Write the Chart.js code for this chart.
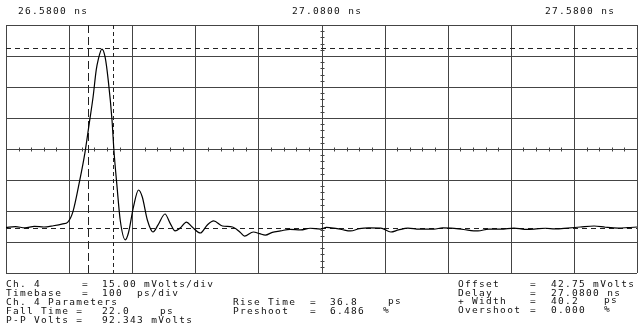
<!DOCTYPE html>
<html>
<head>
<meta charset="utf-8">
<script src="https://cdn.jsdelivr.net/npm/chart.js@4.4.0/dist/chart.umd.min.js"></script>
<style>
  html, body { margin: 0; padding: 0; background: #fff; }
  #wrap { width: 638px; height: 333px; }
</style>
</head>
<body>
<div id="wrap"><canvas id="scope"></canvas></div>
<script>
// waveform, time in ps from 26.5800 ns, amplitude in mV
const timePs = [0, 15, 30, 45, 60, 75, 90, 98, 106, 117, 125, 132, 138, 143, 146, 152, 157, 162, 168, 171, 176, 181, 189, 194, 202, 210, 216, 224, 233, 241, 252, 260, 268, 276, 286, 295, 308, 319, 329, 343, 359, 371, 378, 392, 402, 411, 422, 435, 450, 467, 482, 498, 508, 519, 532, 546, 560, 575, 594, 610, 622, 637, 655, 678, 692, 705, 725, 748, 765, 784, 805, 822, 837, 855, 870, 890, 910, 932, 950, 970, 985, 1000];
const voltsMv = [4.8, 5.2, 4.6, 5.3, 5.0, 5.6, 6.5, 7.4, 12.3, 27.8, 40.8, 55.3, 67.9, 81.0, 85.8, 91.1, 87.3, 76.1, 56.8, 42.3, 24.4, 8.4, -1.2, 2.1, 14.7, 22.9, 19.5, 8.4, 2.6, 6.0, 11.3, 6.9, 3.1, 4.5, 7.4, 5.0, 2.1, 6.0, 8.0, 5.5, 5.0, 2.5, 0.6, 2.6, 1.8, 1.1, 2.4, 3.1, 3.9, 3.6, 4.4, 4.0, 4.8, 4.5, 3.8, 3.1, 4.2, 4.6, 4.5, 2.6, 3.6, 4.5, 4.0, 4.0, 4.6, 4.5, 3.8, 3.1, 4.0, 4.0, 4.5, 3.9, 4.0, 4.4, 4.1, 4.5, 5.0, 5.5, 4.9, 4.5, 4.7, 5.0];

const xTicksPs = [0, 100, 200, 300, 400, 500, 600, 700, 800, 900, 1000];
const yTicksMv = [-17.25, -2.25, 12.75, 27.75, 42.75, 57.75, 72.75, 87.75, 102.75];
const markerTimesPs = [130, 170];
const markerLevelsMv = [91.6, 4.5];

const topLabels = ['26.5800 ns', '27.0800 ns', '27.5800 ns'];
const leftRows = [
  ['Ch. 4', '=', '15.00 mVolts/div', ''],
  ['Timebase', '=', '100  ps/div', ''],
  ['Ch. 4 Parameters', '', '', ''],
  ['Fall Time =', '', '22.0', 'ps'],
  ['P-P Volts =', '', '92.343 mVolts', '']
];
const midRows = [
  ['Rise Time', '=', '36.8', 'ps'],
  ['Preshoot', '=', '6.486', '%']
];
const rightRows = [
  ['Offset', '=', '42.75 mVolts', ''],
  ['Delay', '=', '27.0800 ns', ''],
  ['+ Width', '=', '40.2', 'ps'],
  ['Overshoot', '=', '0.000', '%']
];

const font = '9.5px "DejaVu Sans Mono"';

function drawText(c, s, x, y) {
  if (s) c.fillText(s, x, y);
}

const scopePlugin = {
  id: 'scope',
  beforeDatasetsDraw(chart) {
    const c = chart.ctx;
    const xs = chart.scales.x, ys = chart.scales.y;
    const a = chart.chartArea;
    c.save();
    c.strokeStyle = '#444';
    c.lineWidth = 1;
    xTicksPs.forEach(t => {
      const x = Math.round(xs.getPixelForValue(t)) + 0.5;
      c.beginPath(); c.moveTo(x, a.top); c.lineTo(x, a.bottom); c.stroke();
    });
    yTicksMv.forEach(v => {
      const y = Math.round(ys.getPixelForValue(v)) + 0.5;
      c.beginPath(); c.moveTo(a.left, y); c.lineTo(a.right, y); c.stroke();
    });
    // minor ticks on center axes
    const cx = Math.round(xs.getPixelForValue(500)) + 0.5;
    const cy = Math.round(ys.getPixelForValue(42.75)) + 0.5;
    for (let t = 0; t <= 1000; t += 20) {
      const x = Math.round(xs.getPixelForValue(t)) + 0.5;
      c.beginPath(); c.moveTo(x, cy - 2); c.lineTo(x, cy + 2); c.stroke();
    }
    for (let v = -17.25; v <= 102.75; v += 3) {
      const y = Math.round(ys.getPixelForValue(v)) + 0.5;
      c.beginPath(); c.moveTo(cx - 2, y); c.lineTo(cx + 2, y); c.stroke();
    }
    // measurement markers
    c.strokeStyle = '#222';
    c.setLineDash([8, 4]);
    let x = Math.round(xs.getPixelForValue(markerTimesPs[0])) + 0.5;
    c.beginPath(); c.moveTo(x, a.top); c.lineTo(x, a.bottom); c.stroke();
    c.setLineDash([4, 3]);
    x = Math.round(xs.getPixelForValue(markerTimesPs[1])) + 0.5;
    c.beginPath(); c.moveTo(x, a.top); c.lineTo(x, a.bottom); c.stroke();
    c.setLineDash([5, 4]);
    markerLevelsMv.forEach(v => {
      const y = Math.round(ys.getPixelForValue(v)) + 0.5;
      c.beginPath(); c.moveTo(a.left, y); c.lineTo(a.right, y); c.stroke();
    });
    c.restore();
  },
  afterDraw(chart) {
    const c = chart.ctx;
    c.save();
    c.font = font;
    c.letterSpacing = '1.3px';
    c.fillStyle = '#111';
    c.textBaseline = 'middle';
    drawText(c, topLabels[0], 18, 12);
    drawText(c, topLabels[1], 292, 12);
    drawText(c, topLabels[2], 545, 12);
    leftRows.forEach((r, i) => {
      const y = 285 + i * 9;
      drawText(c, r[0], 6, y);
      drawText(c, r[1], 82, y);
      drawText(c, r[2], 102, y);
      drawText(c, r[3], 160, y);
    });
    midRows.forEach((r, i) => {
      const y = 303 + i * 9;
      drawText(c, r[0], 233, y);
      drawText(c, r[1], 310, y);
      drawText(c, r[2], 330, y);
      drawText(c, r[3], i === 0 ? 388 : 383, y - 1);
    });
    rightRows.forEach((r, i) => {
      const y = 285 + i * 8.5;
      drawText(c, r[0], 458, y);
      drawText(c, r[1], 530, y);
      drawText(c, r[2], 551, y);
      drawText(c, r[3], 604, y - 1);
    });
    c.restore();
  }
};

new Chart(document.getElementById('scope'), {
  type: 'line',
  data: {
    datasets: [{
      data: timePs.map((t, i) => ({ x: t, y: voltsMv[i] })),
      borderColor: '#000',
      borderWidth: 1.2,
      pointRadius: 0,
      cubicInterpolationMode: 'monotone',
      fill: false
    }]
  },
  options: {
    responsive: true,
    maintainAspectRatio: false,
    animation: false,
    layout: { padding: { left: 6, right: 1, top: 25, bottom: 60 } },
    plugins: { legend: { display: false }, tooltip: { enabled: false } },
    scales: {
      x: { type: 'linear', min: 0, max: 1000, display: false },
      y: { min: -17.25, max: 102.75, display: false }
    }
  },
  plugins: [scopePlugin]
});
</script>
</body>
</html>
